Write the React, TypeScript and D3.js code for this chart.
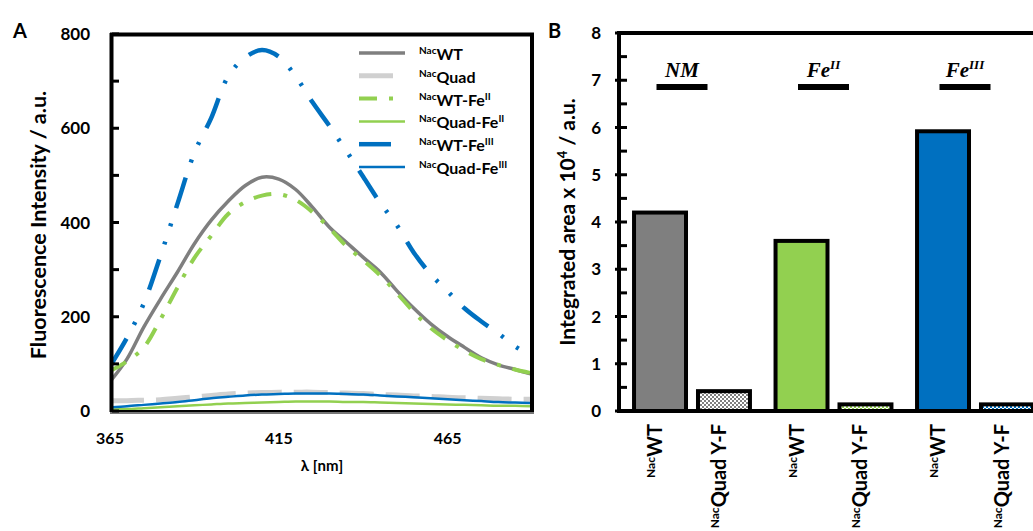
import * as d3 from "d3";

// Panel A: emission spectra (nm vs a.u.)
const wavelengths = [365, 370, 375, 380, 385, 390, 395, 400, 405, 410, 415, 420, 425, 430, 435, 440, 445, 450, 455, 460, 465, 470, 475, 480, 485, 490];
const wt = [62, 110, 178, 238, 295, 355, 405, 445, 478, 496, 492, 470, 432, 390, 358, 326, 295, 255, 218, 185, 158, 135, 113, 98, 88, 78];
const quad = [22, 22, 23, 24, 27, 30, 33, 36, 38, 39, 40, 40, 40, 39, 38, 37, 35, 34, 32, 31, 29, 28, 27, 26, 25, 25];
const wtFe2 = [85, 105, 135, 195, 262, 325, 372, 418, 443, 457, 460, 448, 422, 388, 350, 320, 288, 250, 210, 176, 150, 128, 110, 98, 88, 80];
const quadFe2 = [3, 4, 6, 8, 10, 12, 14, 16, 17, 18, 19, 20, 20, 20, 19, 19, 18, 17, 16, 15, 14, 13, 12, 11, 11, 10];
const wtFe3 = [95, 155, 228, 330, 440, 548, 622, 710, 750, 766, 752, 710, 655, 605, 552, 497, 442, 394, 336, 290, 254, 218, 190, 165, 137, 117];
const quadFe3 = [8, 10, 13, 16, 19, 23, 27, 30, 33, 35, 36, 37, 37, 37, 36, 35, 33, 31, 29, 27, 25, 23, 21, 19, 18, 17];
const yTicksA = [0, 200, 400, 600, 800];
const xTicksA = [365, 415, 465];

const legendNames = ["WT", "Quad", "WT-Fe", "Quad-Fe", "WT-Fe", "Quad-Fe"];
const legendSups = ["", "", "II", "II", "III", "III"];

// Panel B: integrated areas (x 10^4)
const groups = ["NM", "Fe", "Fe"];
const groupSups = ["", "II", "III"];
const variants = ["WT", "Quad Y-F"];
const wtArea = [4.2, 3.6, 5.92];
const quadArea = [0.42, 0.14, 0.14];

const GRAY = "#7f7f7f";
const LIGHT = "#d0d0d0";
const GREEN = "#92d050";
const BLUE = "#0070c0";
const font = "Lato, 'DejaVu Sans', sans-serif";
const serif = "'Liberation Serif', 'DejaVu Serif', serif";

const series = [
  { values: wt, color: GRAY, width: 3.5, dash: "" },
  { values: quad, color: LIGHT, width: 5, dash: "34 12" },
  { values: wtFe2, color: GREEN, width: 4, dash: "18 12 4 12" },
  { values: quadFe2, color: GREEN, width: 2.5, dash: "" },
  { values: wtFe3, color: BLUE, width: 4.5, dash: "32 16 3 16 3 16" },
  { values: quadFe3, color: BLUE, width: 2.5, dash: "" },
];

const groupColors = [GRAY, GREEN, BLUE];

export default function App() {
  // panel A scales
  const xA = d3.scaleLinear().domain([365, 490]).range([110, 532]);
  const yA = d3.scaleLinear().domain([0, 800]).range([411, 34]);
  const line = d3
    .line<number>()
    .x((_, i) => xA(wavelengths[i]))
    .y((d) => yA(d))
    .curve(d3.curveCatmullRom);

  // panel B scales
  const xB = d3.scaleBand().domain(["0", "1", "2"]).range([621.25, 1045.75]);
  const xInner = d3.scaleBand().domain(variants).range([0, xB.bandwidth()]).paddingInner(0.1875).paddingOuter(0.2);
  const yB = d3.scaleLinear().domain([0, 8]).range([411, 33]);

  const bars = groups.flatMap((g, gi) =>
    variants.map((v, vi) => ({
      gi,
      vi,
      v,
      value: vi === 0 ? wtArea[gi] : quadArea[gi],
      x: (xB(String(gi)) as number) + (xInner(v) as number),
    }))
  );

  return (
    <svg width={1033} height={531} style={{ position: "absolute", left: 0, top: 0, background: "#fff" }} fontFamily={font}>
      <defs>
        <clipPath id="clipA">
          <rect x={112} y={35} width={419} height={376} />
        </clipPath>
        {groupColors.map((c, i) => (
          <pattern key={i} id={`chk${i}`} width={4} height={4} patternUnits="userSpaceOnUse">
            <rect width={4} height={4} fill="#fff" />
            <rect width={2} height={2} fill={c} />
            <rect x={2} y={2} width={2} height={2} fill={c} />
          </pattern>
        ))}
      </defs>

      {/* ---------- Panel A ---------- */}
      <text x={13} y={38} fontSize={20} fontWeight="bold">A</text>

      <g clipPath="url(#clipA)">
        {series.map((s, i) => (
          <path key={i} d={line(s.values) as string} fill="none" stroke={s.color} strokeWidth={s.width} strokeDasharray={s.dash || undefined} />
        ))}
      </g>

      {/* frame */}
      <line x1={111.5} x2={111.5} y1={33} y2={412} stroke="#000" strokeWidth={4} />
      <line x1={110} x2={534} y1={34.5} y2={34.5} stroke="#000" strokeWidth={4} />
      <line x1={532} x2={532} y1={33} y2={412} stroke="#000" strokeWidth={4} />
      <line x1={110} x2={534} y1={411} y2={411} stroke="#000" strokeWidth={2} />
      <line x1={110} x2={534} y1={413} y2={413} stroke="#777" strokeWidth={2} />

      {d3.range(0, 801, 100).map((t) => (
        <line key={t} x1={112} x2={119} y1={yA(t)} y2={yA(t)} stroke="#000" strokeWidth={3} />
      ))}
      {yTicksA.map((t) => (
        <text key={t} x={90} y={yA(t)} dy="0.36em" textAnchor="end" fontSize={17} fontWeight="bold">{t}</text>
      ))}
      {xTicksA.map((t) => (
        <text key={t} x={xA(t)} y={444} textAnchor="middle" fontSize={16} fontWeight="bold">{t}</text>
      ))}
      <text x={322} y={471} textAnchor="middle" fontSize={15} fontWeight="bold">λ [nm]</text>
      <text transform="translate(46,225) rotate(-90)" textAnchor="middle" fontSize={21.5} fontWeight="bold">Fluorescence Intensity / a.u.</text>

      {/* legend */}
      {series.map((s, i) => {
        const yy = 53 + i * 22.8;
        return (
          <g key={i}>
            <line x1={359} x2={405} y1={yy} y2={yy} stroke={s.color} strokeWidth={s.width} strokeDasharray={s.dash || undefined} />
            <text x={419} y={yy + 7} fontWeight="bold" fontSize={16}>
              <tspan fontSize={10} dy={-6}>Nac</tspan>
              <tspan dy={6}>{legendNames[i]}</tspan>
              {legendSups[i] && <tspan fontSize={10} dy={-6}>{legendSups[i]}</tspan>}
            </text>
          </g>
        );
      })}

      {/* ---------- Panel B ---------- */}
      <text x={548} y={38} fontSize={20} fontWeight="bold">B</text>

      {bars.map((b, i) => (
        <rect
          key={i}
          x={b.x}
          y={yB(b.value)}
          width={xInner.bandwidth()}
          height={yB(0) - yB(b.value)}
          fill={b.vi === 0 ? groupColors[b.gi] : `url(#chk${b.gi})`}
          stroke="#000"
          strokeWidth={4}
        />
      ))}

      <line x1={619} x2={619} y1={31} y2={413} stroke="#000" strokeWidth={4} />
      <line x1={617} x2={1033} y1={33} y2={33} stroke="#000" strokeWidth={4} />
      <line x1={617} x2={1033} y1={411} y2={411} stroke="#000" strokeWidth={4} />
      {d3.range(0, 8.01, 0.5).map((t) => (
        <line key={t} x1={Number.isInteger(t) ? 615 : 619} x2={627} y1={yB(t)} y2={yB(t)} stroke="#000" strokeWidth={3} />
      ))}
      {d3.range(0, 9).map((t) => (
        <text key={t} x={601} y={yB(t)} dy="0.36em" textAnchor="end" fontSize={17} fontWeight="bold">{t}</text>
      ))}
      <text transform="translate(575,222) rotate(-90)" textAnchor="middle" fontSize={21} fontWeight="bold">
        Integrated area x 10<tspan fontSize={13} dy={-8}>4</tspan>
        <tspan dy={8}> / a.u.</tspan>
      </text>

      {/* group labels */}
      {groups.map((g, gi) => {
        const cx = (xB(String(gi)) as number) + xB.bandwidth() / 2 - 10;
        return (
          <g key={gi}>
            <text x={cx} y={77} textAnchor="middle" fontFamily={serif} fontStyle="italic" fontWeight="bold" fontSize={21}>
              {g}
              {groupSups[gi] && <tspan fontSize={13} dy={-8}>{groupSups[gi]}</tspan>}
            </text>
            <rect x={cx - 25.5} y={84} width={51} height={6} fill="#000" />
          </g>
        );
      })}

      {/* category labels */}
      {bars.map((b, i) => (
        <text
          key={i}
          transform={`translate(${b.x + xInner.bandwidth() / 2 + 2},424) rotate(-90)`}
          textAnchor="end"
          fontWeight="bold"
          fontSize={20}
        >
          <tspan fontSize={12} dy={-7}>Nac</tspan>
          <tspan dy={7}>{b.v}</tspan>
        </text>
      ))}
    </svg>
  );
}
